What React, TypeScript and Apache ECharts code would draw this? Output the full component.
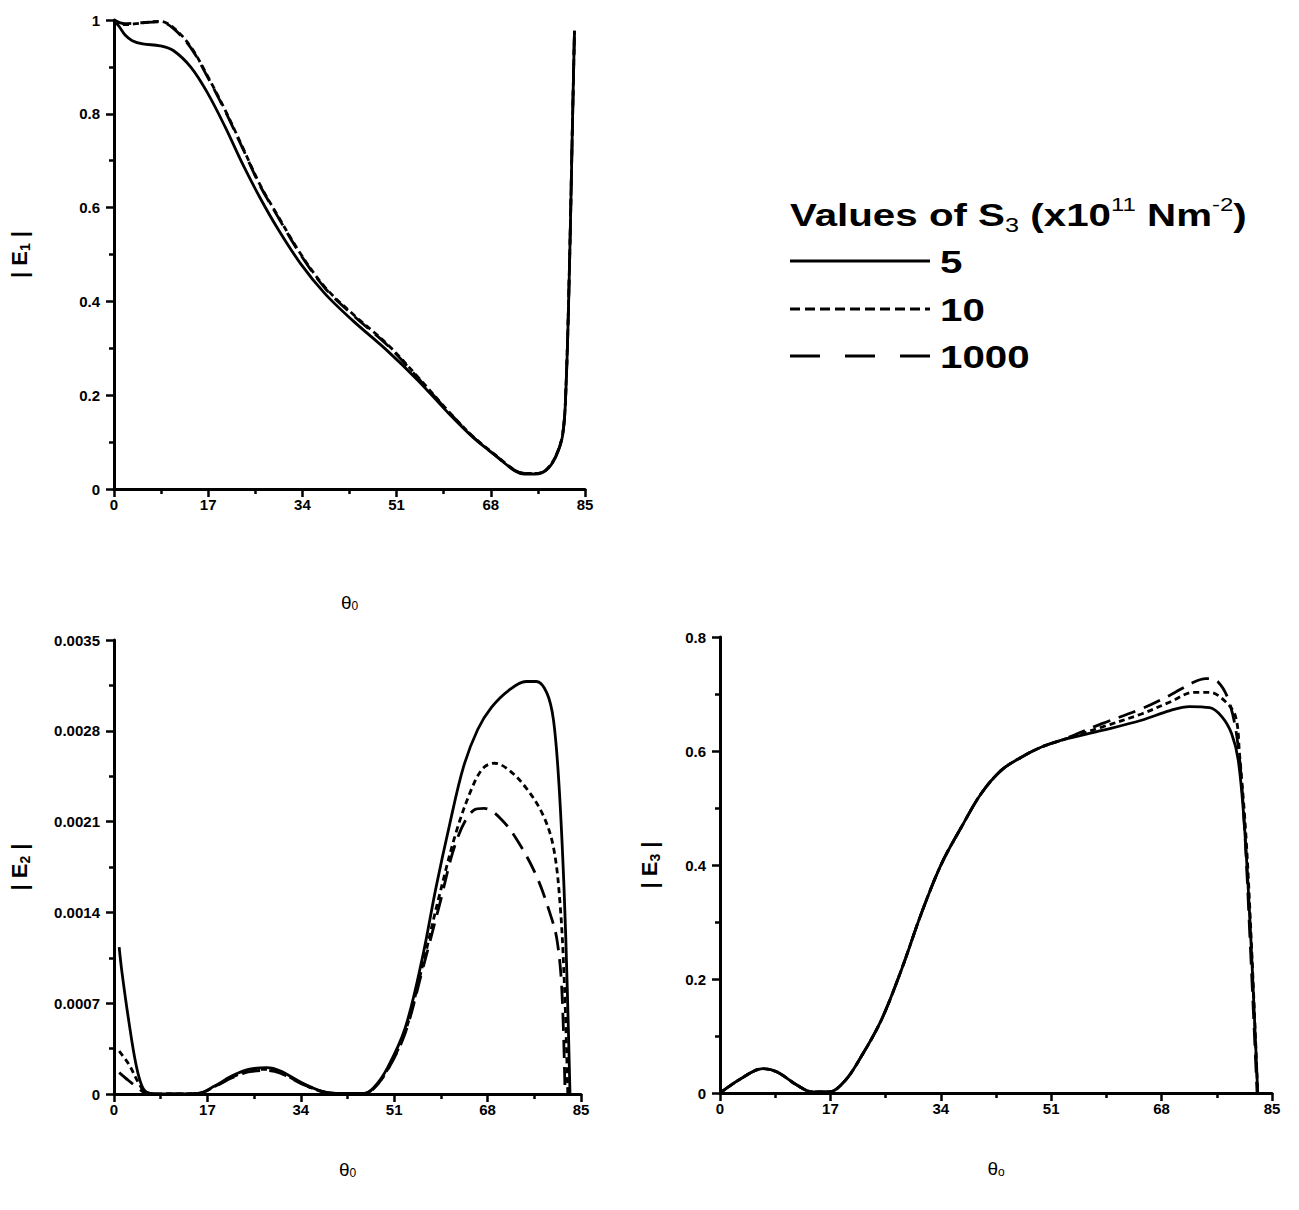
import React, { useEffect, useRef } from "react";
import * as echarts from "echarts";

// ---------- data ----------
const seriesNames = ["5", "10", "1000"];

// |E1|
const e1Theta5 = [0, 1, 2, 3.3, 5.2, 8.3, 10.7, 13.9, 17.0, 20.1, 23.2, 26.3, 29.4, 33.7, 38.1, 43.1, 49.3, 54.9, 60.5, 64.8, 69.2, 72.3, 74.1, 76.0, 77.9, 79.7, 81.0, 81.6, 82.2, 82.7, 83.1];
const e1Val5 = [1.0, 0.985, 0.968, 0.956, 0.949, 0.945, 0.935, 0.899, 0.842, 0.771, 0.693, 0.622, 0.558, 0.48, 0.416, 0.359, 0.295, 0.231, 0.16, 0.11, 0.068, 0.039, 0.032, 0.032, 0.039, 0.068, 0.117, 0.224, 0.473, 0.757, 0.977];
const e1Theta10 = [0, 2.0, 4.5, 8.3, 10.7, 13.9, 17.0, 20.1, 23.2, 26.3, 29.4, 33.7, 38.1, 43.1, 49.3, 54.9, 60.5, 64.8, 69.2, 72.3, 74.1, 76.0, 77.9, 79.7, 81.0, 81.6, 82.2, 82.7, 83.1];
const e1Val10 = [1.0, 0.99, 0.993, 0.997, 0.984, 0.942, 0.878, 0.807, 0.729, 0.65, 0.586, 0.501, 0.43, 0.373, 0.309, 0.238, 0.164, 0.112, 0.069, 0.04, 0.033, 0.033, 0.04, 0.07, 0.12, 0.23, 0.48, 0.76, 0.977];
const e1Theta1000 = [0, 2.0, 4.5, 8.3, 10.7, 13.9, 17.0, 20.1, 23.2, 26.3, 29.4, 33.7, 38.1, 43.1, 49.3, 54.9, 60.5, 64.8, 69.2, 72.3, 74.1, 76.0, 77.9, 79.7, 81.0, 81.6, 82.2, 82.7, 83.1];
const e1Val1000 = [1.0, 0.992, 0.994, 0.996, 0.982, 0.94, 0.876, 0.805, 0.727, 0.648, 0.584, 0.499, 0.428, 0.371, 0.307, 0.236, 0.163, 0.111, 0.068, 0.04, 0.033, 0.033, 0.04, 0.069, 0.119, 0.228, 0.476, 0.758, 0.977];

// |E2|
const e2Theta5 = [0.94, 1.44, 2.7, 4.0, 5.2, 6.5, 9, 15.3, 18.4, 21.5, 24.7, 27.8, 30.3, 34.1, 37.9, 40.4, 45.4, 47.3, 49.8, 53.0, 56.1, 58.6, 61.1, 63.6, 66.2, 68.7, 71.8, 75.0, 76.9, 78.8, 80.0, 81.0, 81.9, 82.5, 83.0];
const e2Val5 = [0.001133, 0.000942, 0.00056, 0.000229, 0.000051, 0.000005, 0, 0.000005, 0.000064, 0.00014, 0.000191, 0.000204, 0.000178, 0.000089, 0.00002, 0.000005, 0.000005, 0.000051, 0.000204, 0.000509, 0.001044, 0.00159, 0.00208, 0.00252, 0.00281, 0.00298, 0.00311, 0.00318, 0.00318, 0.00309, 0.00288, 0.00238, 0.0016, 0.000815, 0];
const e2Theta10 = [0.94, 2.7, 4.6, 5.8, 9, 15.3, 18.4, 21.5, 24.7, 27.8, 30.3, 34.1, 37.9, 40.4, 45.4, 47.3, 49.8, 53.0, 56.1, 59.2, 62.4, 65.5, 67.4, 69.3, 71.8, 75.0, 78.1, 80.0, 81.2, 82.0, 82.6];
const e2Val10 = [0.000331, 0.000229, 0.000076, 0.000013, 0, 0.000004, 0.00006, 0.00013, 0.00018, 0.00019, 0.000165, 0.000082, 0.000018, 0.000004, 0.000004, 0.000045, 0.00019, 0.00048, 0.00098, 0.001527, 0.002036, 0.002393, 0.00252, 0.00255, 0.0025, 0.00236, 0.00215, 0.0019, 0.00146, 0.00082, 0];
const e2Theta1000 = [0.94, 2.7, 4.6, 5.8, 9, 15.3, 18.4, 21.5, 24.7, 27.8, 30.3, 34.1, 37.9, 40.4, 45.4, 47.3, 49.8, 53.0, 56.1, 59.2, 62.4, 65.5, 67.4, 70.6, 73.7, 76.9, 79.3, 80.6, 81.5, 82.1];
const e2Val1000 = [0.000165, 0.000102, 0.000038, 0.000005, 0, 0.000004, 0.000058, 0.000125, 0.000172, 0.000182, 0.00016, 0.00008, 0.000018, 0.000004, 0.000004, 0.000043, 0.000185, 0.00047, 0.00095, 0.001451, 0.00196, 0.002189, 0.002202, 0.002113, 0.001935, 0.00168, 0.0014, 0.001196, 0.000815, 0];

// |E3|
const e3Theta5 = [0, 3.2, 6.6, 8.8, 11.9, 14.3, 16.8, 19.3, 21.7, 24.8, 27.9, 31.0, 34.1, 37.2, 40.2, 43.3, 46.4, 49.5, 52.6, 58.8, 64.9, 69.3, 72.3, 75.4, 77.3, 78.8, 79.8, 80.7, 81.6, 82.2, 82.8];
const e3Val5 = [0, 0.025, 0.0427, 0.0368, 0.0135, 0.0018, 0.0018, 0.0222, 0.063, 0.127, 0.215, 0.315, 0.402, 0.467, 0.525, 0.566, 0.589, 0.607, 0.619, 0.636, 0.654, 0.671, 0.678, 0.676, 0.66, 0.63, 0.584, 0.478, 0.303, 0.157, 0];
const e3Theta10 = [0, 3.2, 6.6, 8.8, 11.9, 14.3, 16.8, 19.3, 21.7, 24.8, 27.9, 31.0, 34.1, 37.2, 40.2, 43.3, 46.4, 49.5, 52.6, 58.8, 64.9, 69.3, 73.0, 75.4, 77.9, 79.4, 80.0, 81.0, 81.9, 82.8];
const e3Val10 = [0, 0.025, 0.0427, 0.0368, 0.0135, 0.0018, 0.0018, 0.0222, 0.063, 0.127, 0.215, 0.315, 0.402, 0.467, 0.525, 0.566, 0.589, 0.607, 0.619, 0.642, 0.665, 0.686, 0.703, 0.703, 0.686, 0.66, 0.595, 0.449, 0.244, 0];
const e3Theta1000 = [0, 3.2, 6.6, 8.8, 11.9, 14.3, 16.8, 19.3, 21.7, 24.8, 27.9, 31.0, 34.1, 37.2, 40.2, 43.3, 46.4, 49.5, 52.6, 58.8, 64.9, 69.3, 73.0, 74.8, 76.7, 78.5, 79.8, 80.7, 81.6, 82.7];
const e3Val1000 = [0, 0.025, 0.0427, 0.0368, 0.0135, 0.0018, 0.0018, 0.0222, 0.063, 0.127, 0.215, 0.315, 0.402, 0.467, 0.525, 0.566, 0.589, 0.607, 0.619, 0.648, 0.674, 0.698, 0.721, 0.727, 0.721, 0.683, 0.607, 0.478, 0.274, 0];

// ---------- styles ----------
const FONT = "Liberation Sans";
const lineTypes: any[] = ["solid", [6, 4], [18, 9]];
const legendDash: any[] = [null, [10, 5], [30, 25]];

const zip = (xs: number[], ys: number[]) => xs.map((x, i) => [x, ys[i]]);

const tickCommon = {
  axisLine: { show: true, onZero: false, lineStyle: { color: "#000", width: 3 } },
  axisTick: { show: true, inside: false, length: 8, lineStyle: { width: 2.5, color: "#000" } },
  minorTick: { show: true, splitNumber: 2, length: 5, lineStyle: { width: 2.5, color: "#000" } },
  splitLine: { show: false },
};

function xAxisCfg(gridIndex: number, nameGap: number, sub: string) {
  return {
    type: "value",
    gridIndex,
    min: 0,
    max: 85,
    interval: 17,
    name: `{t|θ}{s|${sub}}`,
    nameLocation: "middle",
    nameGap,
    nameTextStyle: {
      rich: {
        t: { fontSize: 19, fontFamily: FONT, color: "#000" },
        s: { fontSize: 12, fontFamily: FONT, color: "#000", verticalAlign: "bottom", lineHeight: 14 },
      },
    },
    ...tickCommon,
    axisLabel: { color: "#000", fontFamily: FONT, fontWeight: "bold", fontSize: 15, margin: 8 },
  };
}

function yAxisCfg(gridIndex: number, max: number, interval: number, nameGap: number, idx: string, fmt?: (v: number) => string) {
  return {
    type: "value",
    gridIndex,
    min: 0,
    max,
    interval,
    name: `{a|| E}{s|${idx}}{a| |}`,
    nameLocation: "middle",
    nameRotate: 90,
    nameGap,
    nameTextStyle: {
      rich: {
        a: { fontSize: 22, fontWeight: "bold", fontFamily: FONT, color: "#000", lineHeight: 26 },
        s: { fontSize: 14, fontWeight: "bold", fontFamily: FONT, color: "#000", verticalAlign: "bottom", lineHeight: 18 },
      },
    },
    ...tickCommon,
    axisLabel: {
      color: "#000",
      fontFamily: FONT,
      fontWeight: "bold",
      fontSize: 15,
      margin: 14,
      formatter: fmt,
    },
  };
}

function lineSeries(name: string, k: number, axis: number, data: number[][]) {
  return {
    type: "line",
    name,
    xAxisIndex: axis,
    yAxisIndex: axis,
    data,
    smooth: 0.35,
    symbol: "none",
    showSymbol: false,
    lineStyle: { color: "#000", width: 2.8, type: lineTypes[k] },
    z: 3 - k,
  };
}

export default function App() {
  const ref = useRef<HTMLDivElement>(null);

  useEffect(() => {
    document.body.style.margin = "0";
    const chart = echarts.init(ref.current!, null, { renderer: "svg" });

    const e2fmt = (v: number) => (v === 0 ? "0" : v.toFixed(4));
    const e1fmt = (v: number) => (v === 0 ? "0" : v === 1 ? "1" : v.toFixed(1));

    const legendY = [261, 309, 356];
    const graphic: any[] = [
      {
        type: "text",
        x: 790,
        y: 215,
        scaleX: 1.26,
        style: {
          text: "{b|Values of S}{sub|3}{b| (x10}{sup|11}{b| Nm}{sup|-2}{b|)}",
          verticalAlign: "middle",
          rich: {
            b: { fontSize: 32, fontWeight: "bold", fontFamily: FONT, fill: "#000", lineHeight: 40 },
            sub: { fontSize: 20, fontFamily: FONT, fill: "#000", lineHeight: 20, verticalAlign: "bottom" },
            sup: { fontSize: 19, fontFamily: FONT, fill: "#000", lineHeight: 35, verticalAlign: "top" },
          },
        },
      },
    ];
    seriesNames.forEach((n, k) => {
      graphic.push({
        type: "line",
        shape: { x1: 790, y1: legendY[k], x2: 930, y2: legendY[k] },
        style: { stroke: "#000", lineWidth: 3, lineDash: legendDash[k] || undefined },
      });
      graphic.push({
        type: "text",
        x: 940,
        y: legendY[k] + 1,
        scaleX: 1.26,
        style: { text: n, fontSize: 32, fontWeight: "bold", fontFamily: FONT, fill: "#000", verticalAlign: "middle" },
      });
    });

    chart.setOption({
      animation: false,
      backgroundColor: "#fff",
      grid: [
        { left: 114, top: 20, width: 471, height: 469 },
        { left: 114, top: 640, width: 467, height: 454 },
        { left: 720, top: 637, width: 552, height: 456 },
      ],
      xAxis: [xAxisCfg(0, 104, "0"), xAxisCfg(1, 66, "0"), xAxisCfg(2, 66, "o")],
      yAxis: [
        yAxisCfg(0, 1, 0.2, 82, "1", e1fmt),
        yAxisCfg(1, 0.0035, 0.0007, 82, "2", e2fmt),
        yAxisCfg(2, 0.8, 0.2, 58, "3", e1fmt),
      ],
      series: [
        lineSeries(seriesNames[0], 0, 0, zip(e1Theta5, e1Val5)),
        lineSeries(seriesNames[1], 1, 0, zip(e1Theta10, e1Val10)),
        lineSeries(seriesNames[2], 2, 0, zip(e1Theta1000, e1Val1000)),
        lineSeries(seriesNames[0], 0, 1, zip(e2Theta5, e2Val5)),
        lineSeries(seriesNames[1], 1, 1, zip(e2Theta10, e2Val10)),
        lineSeries(seriesNames[2], 2, 1, zip(e2Theta1000, e2Val1000)),
        lineSeries(seriesNames[0], 0, 2, zip(e3Theta5, e3Val5)),
        lineSeries(seriesNames[1], 1, 2, zip(e3Theta10, e3Val10)),
        lineSeries(seriesNames[2], 2, 2, zip(e3Theta1000, e3Val1000)),
      ],
      graphic,
    });
    return () => chart.dispose();
  }, []);

  return <div ref={ref} style={{ width: 1299, height: 1210 }} />;
}
